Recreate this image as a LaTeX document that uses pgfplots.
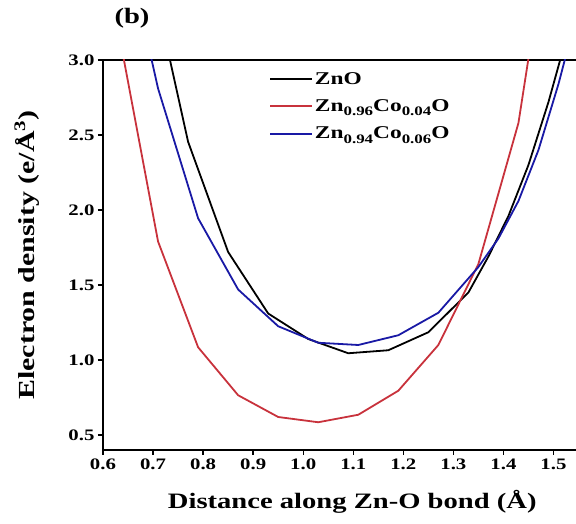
\documentclass[border=0pt]{standalone}
\usepackage{fontspec}
\setmainfont{Liberation Serif}
\newfontfamily\wide{Liberation Serif}[FakeStretch=1.3]
\usepackage{pgfplots}
\pgfplotsset{compat=1.18}
\definecolor{cred}{RGB}{200,50,60}
\definecolor{cblue}{RGB}{25,25,165}
\pgfplotsset{legend image code/.code={\draw[#1] (0pt,0pt) -- (42pt,0pt);}}
\newcommand{\sub}[1]{\raisebox{-0.5ex}{\fontsize{13}{13}\selectfont #1}}
\begin{document}
\begin{tikzpicture}
\begin{axis}[
  scale only axis, width=473pt, height=390pt,
  xmin=0.6, xmax=1.545, ymin=0.4, ymax=3.0,
  axis x line*=box, axis y line*=left,
  axis line style={line width=1.6pt},
  xtick={0.6,0.7,...,1.51}, ytick={0.5,1.0,...,3.01},
  xtick pos=bottom, ytick pos=left,
  tick align=outside, major tick length=5pt,
  tick style={line width=1.4pt, black},
  /pgf/number format/assume math mode=true,
  xticklabel style={/pgf/number format/.cd, fixed, fixed zerofill, precision=1},
  yticklabel style={/pgf/number format/.cd, fixed, fixed zerofill, precision=1},
  ticklabel style={font=\wide\bfseries\fontsize{16}{16}\selectfont},
  every axis x label/.style={at={(axis description cs:0.527,-0.132)}, anchor=center},
  every axis y label/.style={at={(axis description cs:-0.161,0.5)}, anchor=center, rotate=90},
  xlabel={\wide\bfseries\fontsize{22}{22}\selectfont Distance along Zn-O bond (Å)},
  ylabel={\wide\bfseries\fontsize{23}{23}\selectfont Electron density (e/Å\textsuperscript{3})},
  legend style={at={(164pt,382pt)}, anchor=north west, draw=none, fill=none,
    font=\wide\bfseries\fontsize{18}{18}\selectfont, row sep=10pt,
    inner sep=2pt},
  legend cell align=left,
]
\addplot[black, line width=1.8pt] coordinates {
(0.69,3.66) (0.77,2.455) (0.85,1.72) (0.93,1.31) (1.01,1.14) (1.09,1.045)
(1.17,1.065) (1.25,1.185) (1.33,1.45) (1.37,1.69) (1.41,1.96) (1.45,2.3) (1.49,2.72) (1.53,3.2)};
\addlegendentry{ZnO}
\addplot[cred, line width=1.8pt] coordinates {
(0.63,3.21) (0.71,1.79) (0.79,1.085) (0.87,0.765) (0.95,0.62) (1.03,0.585)
(1.11,0.635) (1.19,0.795) (1.27,1.10) (1.35,1.64) (1.43,2.58) (1.51,4.3)};
\addlegendentry{Zn\sub{0.96}Co\sub{0.04}O}
\addplot[cblue, line width=1.8pt] coordinates {
(0.63,4.0) (0.71,2.81) (0.79,1.945) (0.87,1.47) (0.95,1.225) (1.03,1.115)
(1.11,1.10) (1.19,1.165) (1.27,1.315) (1.35,1.62) (1.39,1.81) (1.43,2.06) (1.47,2.4) (1.51,2.84) (1.55,3.35)};
\addlegendentry{Zn\sub{0.94}Co\sub{0.06}O}
\end{axis}
\node[font=\wide\bfseries\fontsize{22}{22}\selectfont] at (29pt,432pt) {(b)};
\pgfresetboundingbox
\useasboundingbox (-103pt,-74pt) rectangle (473pt,450pt);
\end{tikzpicture}
\end{document}
